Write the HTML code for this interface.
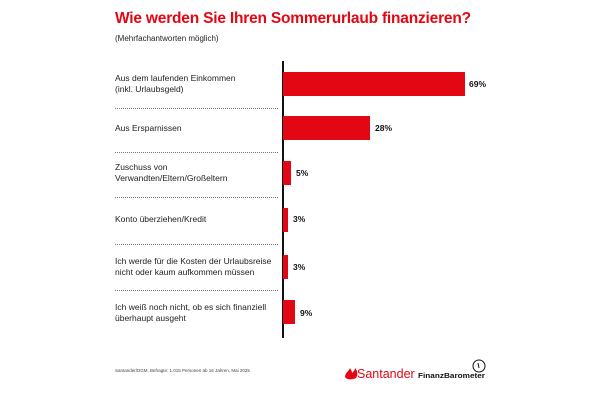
<!DOCTYPE html>
<html><head><meta charset="utf-8"><style>
body{margin:0;width:600px;height:400px;background:#fff;font-family:"Liberation Sans",sans-serif;position:relative;overflow:hidden}
.a{position:absolute}
.t{left:115px;top:10px;font-size:15.5px;font-weight:bold;color:#e30613;white-space:nowrap;letter-spacing:-0.2px}
.s{left:115px;top:34px;font-size:8px;color:#222}
.l{left:115px;font-size:8.5px;color:#222;line-height:11px}
.b{left:283px;background:#e30613;height:24px}
.v{font-size:8.5px;font-weight:bold;color:#111}
.d{left:115px;width:163px;border-top:1px dotted #777;height:0}
</style></head><body>
<div class="a t">Wie werden Sie Ihren Sommerurlaub finanzieren?</div>
<div class="a s">(Mehrfachantworten möglich)</div>
<div class="a" style="left:282px;top:61px;width:1.5px;height:277px;background:#111"></div>

<div class="a l" style="top:73px">Aus dem laufenden Einkommen<br>(inkl. Urlaubsgeld)</div>
<div class="a b" style="top:72px;width:182px"></div><div class="a v" style="left:469px;top:79px">69%</div>
<div class="a d" style="top:108px"></div>

<div class="a l" style="top:123px">Aus Ersparnissen</div>
<div class="a b" style="top:116px;width:87px"></div><div class="a v" style="left:375px;top:123px">28%</div>
<div class="a d" style="top:152px"></div>

<div class="a l" style="top:162px">Zuschuss von<br>Verwandten/Eltern/Großeltern</div>
<div class="a b" style="top:161px;width:8px"></div><div class="a v" style="left:296px;top:168px">5%</div>
<div class="a d" style="top:197px"></div>

<div class="a l" style="top:214px">Konto überziehen/Kredit</div>
<div class="a b" style="top:208px;width:5px"></div><div class="a v" style="left:293px;top:214px">3%</div>
<div class="a d" style="top:244px"></div>

<div class="a l" style="top:256px">Ich werde für die Kosten der Urlaubsreise<br>nicht oder kaum aufkommen müssen</div>
<div class="a b" style="top:255px;width:5px"></div><div class="a v" style="left:293px;top:262px">3%</div>
<div class="a d" style="top:290px"></div>

<div class="a l" style="top:302px">Ich weiß noch nicht, ob es sich finanziell<br>überhaupt ausgeht</div>
<div class="a b" style="top:300px;width:12px"></div><div class="a v" style="left:300px;top:308px">9%</div>

<div class="a" style="left:115px;top:368px;font-size:4.5px;color:#444">Santander/DGM, Befragte: 1.015 Personen ab 16 Jahren, Mai 2025</div>
<svg class="a" style="left:340px;top:355px" width="150" height="30">
<path d="M5 22 C5 18 9 16 10 13 C11 15 12 16 12 18 C14 16 15 15 15 13 C18 16 18 20 16 23 C12 25 7 25 5 22Z" fill="#e30613"/>
<text x="17" y="23" font-family="Liberation Sans" font-size="12.5" fill="#e30613">Santander</text>
<text x="78" y="23" font-family="Liberation Sans" font-size="7" font-weight="bold" fill="#111" textLength="67" lengthAdjust="spacingAndGlyphs">FinanzBarometer</text>
<circle cx="139" cy="11" r="6" fill="none" stroke="#111" stroke-width="1"/>
<path d="M138 8 L139 13" stroke="#111" stroke-width="1"/>
</svg>
</body></html>
